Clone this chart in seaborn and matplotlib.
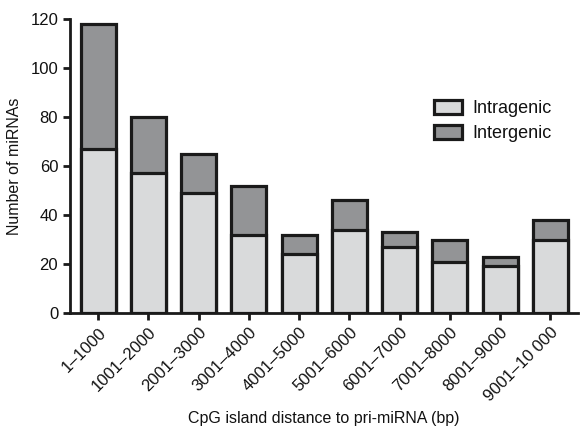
import matplotlib
matplotlib.use("Agg")
import matplotlib.pyplot as plt
import seaborn as sns
import pandas as pd
from matplotlib.patches import Patch

categories = ["1\u20131000", "1001\u20132000", "2001\u20133000", "3001\u20134000", "4001\u20135000",
              "5001\u20136000", "6001\u20137000", "7001\u20138000", "8001\u20139000", "9001\u201310 000"]
intragenic = [67, 57, 49, 32, 24, 34, 27, 21, 19, 30]
intergenic = [51, 23, 16, 20, 8, 12, 6, 9, 4, 8]
totals = [a + b for a, b in zip(intragenic, intergenic)]

df = pd.DataFrame({"cat": categories, "intra": intragenic, "total": totals})

sns.set_style("ticks")
plt.rcParams["font.family"] = ["Liberation Sans", "DejaVu Sans"]
plt.rcParams["text.color"] = "#111111"
plt.rcParams["axes.labelcolor"] = "#111111"
plt.rcParams["xtick.color"] = "#111111"
plt.rcParams["ytick.color"] = "#111111"

fig = plt.figure(figsize=(5.84, 4.46), dpi=100)
ax = fig.add_axes([70/584, (446-313)/446, (578-70)/584, (313-19)/446])

light = "#d9dadb"
dark = "#939496"
lw = 2.3
sns.barplot(data=df, x="cat", y="total", color=dark, edgecolor="#1a1a1a", linewidth=lw,
            width=0.7, saturation=1, ax=ax)
sns.barplot(data=df, x="cat", y="intra", color=light, edgecolor="#1a1a1a", linewidth=lw,
            width=0.7, saturation=1, ax=ax)

fs = 12
ax.set_ylim(0, 120)
ax.set_xlim(-0.56, 9.55)
ax.set_yticks([0, 20, 40, 60, 80, 100, 120])
ax.tick_params(axis="both", width=2, length=5, color="#1a1a1a", labelsize=fs)
ax.set_xticks(range(len(categories)))
ax.set_xticklabels(categories, rotation=45, ha="right", rotation_mode="anchor", fontsize=fs)
ax.set_ylabel("Number of miRNAs", fontsize=11.5, labelpad=6)
ax.set_xlabel("CpG island distance to pri-miRNA (bp)", fontsize=11.5, labelpad=5)
for s in ["top", "right"]:
    ax.spines[s].set_visible(False)
for s in ["left", "bottom"]:
    ax.spines[s].set_linewidth(2)
    ax.spines[s].set_color("#1a1a1a")

handles = [Patch(facecolor=light, edgecolor="#1a1a1a", linewidth=lw, label="Intragenic"),
           Patch(facecolor=dark, edgecolor="#1a1a1a", linewidth=lw, label="Intergenic")]
ax.legend(handles=handles, loc="upper left", bbox_to_anchor=(0.716, 0.725), frameon=False,
          fontsize=13, handlelength=1.55, handleheight=0.85, labelspacing=0.42, handletextpad=0.6,
          borderpad=0, borderaxespad=0)

fig.savefig("out.png", dpi=100)
